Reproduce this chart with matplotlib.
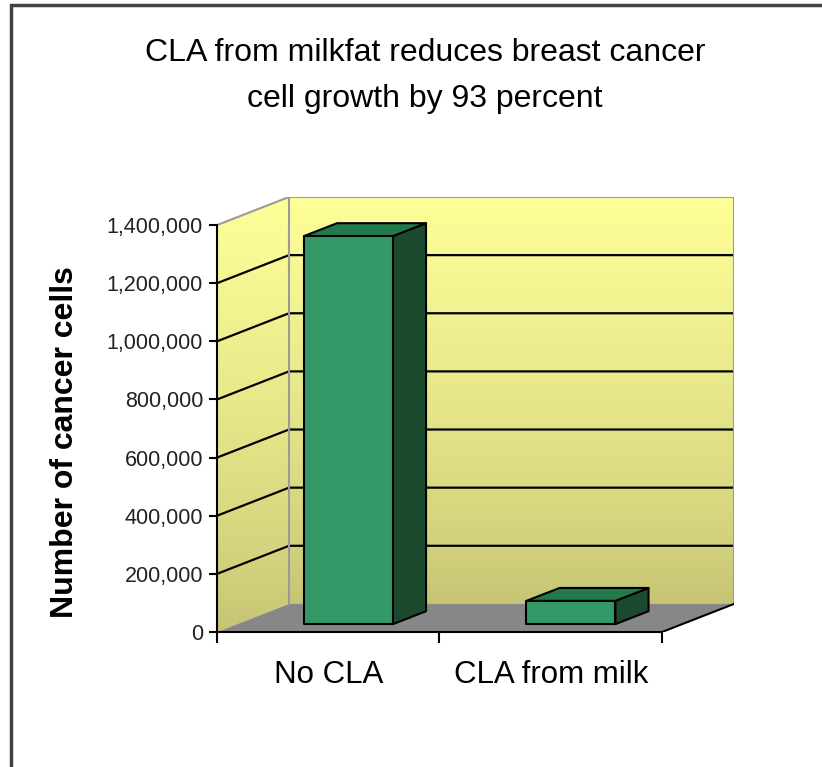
import matplotlib
matplotlib.use("Agg")
import matplotlib.pyplot as plt
import numpy as np
from matplotlib.patches import Polygon, Rectangle
from matplotlib.colors import to_rgb
from matplotlib.ticker import FuncFormatter

# data
categories = ["No CLA", "CLA from milk"]
cancer_cells = [1335000, 80000]
y_ticks = [0, 200000, 400000, 600000, 800000, 1000000, 1200000, 1400000]
y_max = 1400000
title = "CLA from milkfat reduces breast cancer\ncell growth by 93 percent"
y_label = "Number of cancer cells"

plt.rcParams.update({
    "font.family": ["Liberation Sans", "DejaVu Sans"],
    "axes.linewidth": 1.5,
})

# 3d look: depth vector of the chart box in data units
n_cat = len(categories)
DX = 0.3236 * n_cat / 2
DY = 0.069 * y_max
BAR_D0, BAR_D1 = 0.28, 0.74
BAR_W0, BAR_W1 = 0.30, 0.70

wall_top = "#FFFF99"
wall_bottom = "#C6C474"
floor_color = "#878787"
bar_front = "#339966"
bar_side = "#1B4A2F"
bar_top = "#227A4A"

fig = plt.figure(figsize=(8.22, 7.67), dpi=100)
ax = fig.add_axes([217 / 822, (767 - 632) / 767, (734 - 217) / 822, (632 - 197) / 767])
ax.set_facecolor("none")


def gradient(n=256):
    t = np.linspace(0, 1, n)[:, None, None] ** 0.8
    return (1 - t) * np.array(to_rgb(wall_bottom)) + t * np.array(to_rgb(wall_top))


# back wall
ax.imshow(gradient(), extent=(DX, n_cat + DX, DY, y_max + DY), origin="lower",
          aspect="auto", interpolation="bilinear", zorder=0)
# left wall
left_wall = Polygon([(0, 0), (DX, DY), (DX, y_max + DY), (0, y_max)], closed=True,
                    transform=ax.transData)
im = ax.imshow(gradient(), extent=(0, DX, 0, y_max + DY), origin="lower",
               aspect="auto", interpolation="bilinear", zorder=0)
im.set_clip_path(left_wall)
# floor
ax.add_patch(Polygon([(0, 0), (n_cat, 0), (n_cat + DX, DY), (DX, DY)], closed=True,
                     facecolor=floor_color, edgecolor="none", zorder=1))

# gridlines
for v in y_ticks[1:-1]:
    ax.plot([0, DX, n_cat + DX], [v, v + DY, v + DY], color="black", lw=1.6,
            zorder=2, solid_capstyle="butt")
# wall borders
ax.plot([0, DX, n_cat + DX, n_cat + DX], [y_max, y_max + DY, y_max + DY, DY],
        color="#9A9A9A", lw=1.5, zorder=2)
ax.plot([DX, DX], [DY, y_max + DY], color="#9A9A9A", lw=1.5, zorder=2)
ax.plot([n_cat, n_cat + DX], [0, DY], color="black", lw=1.5, zorder=2)

# bars
for i, v in enumerate(cancer_cells):
    x0 = i + BAR_W0
    x1 = i + BAR_W1
    fx0, fx1 = x0 + BAR_D0 * DX, x1 + BAR_D0 * DX
    fy = BAR_D0 * DY
    bx0, bx1 = x0 + BAR_D1 * DX, x1 + BAR_D1 * DX
    by = BAR_D1 * DY
    kw = dict(edgecolor="black", lw=1.5, joinstyle="round", zorder=3)
    ax.add_patch(Polygon([(fx1, fy), (bx1, by), (bx1, v + by), (fx1, v + fy)],
                         facecolor=bar_side, **kw))
    ax.add_patch(Polygon([(fx0, v + fy), (fx1, v + fy), (bx1, v + by), (bx0, v + by)],
                         facecolor=bar_top, **kw))
    ax.add_patch(Rectangle((fx0, fy), fx1 - fx0, v, facecolor=bar_front, **kw))

ax.set_xlim(0, n_cat + DX)
ax.set_ylim(0, y_max + DY)

for s in ["top", "right"]:
    ax.spines[s].set_visible(False)
ax.spines["left"].set_bounds(0, y_max)
ax.spines["bottom"].set_bounds(0, n_cat)
ax.spines["left"].set_zorder(4)
ax.spines["bottom"].set_zorder(4)

ax.set_yticks(y_ticks)
ax.yaxis.set_major_formatter(FuncFormatter(lambda v, p: f"{int(v):,}"))
ax.tick_params(axis="y", direction="out", length=6, width=1.5, labelsize=15.5,
               pad=4, labelcolor="#222222")
ax.set_xticks(np.arange(n_cat + 1))
ax.set_xticklabels([])
ax.set_xticks(np.arange(n_cat) + 0.5, minor=True)
ax.set_xticklabels(categories, minor=True, fontsize=22.5)
ax.tick_params(axis="x", which="major", direction="out", length=8, width=1.5)
ax.tick_params(axis="x", which="minor", length=0, pad=20)

ax.set_ylabel(y_label, fontsize=23, fontweight="bold")
ax.yaxis.set_label_coords((80 - 217) / 517, (632 - 442) / 435)

fig.text(425 / 822, 1 - 76 / 767, title, ha="center", va="center", fontsize=23,
         linespacing=1.7)

# chart area frame
fig.add_artist(Rectangle((11 / 822, -0.2), 1.2, 1.2 - 5 / 767, transform=fig.transFigure,
                         fill=False, edgecolor="#444444", lw=2.5))

fig.savefig("out.png", dpi=100)
